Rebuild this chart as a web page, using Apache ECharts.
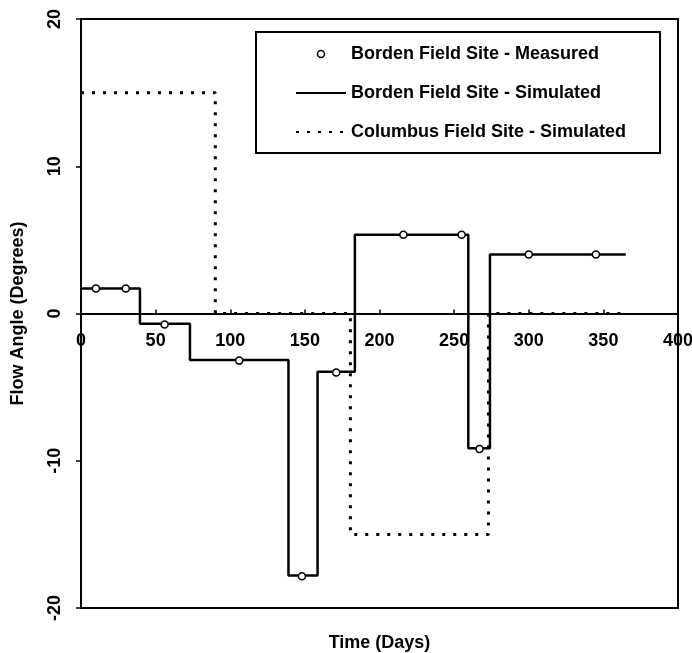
<!DOCTYPE html>
<html>
<head>
<meta charset="utf-8">
<script src="https://cdn.jsdelivr.net/npm/echarts@6/dist/echarts.min.js"></script>
<style>
html,body{margin:0;padding:0;background:#fff;}
#chart{width:692px;height:653px;}
</style>
</head>
<body>
<div id="chart"></div>
<script>
// Borden Field Site - Simulated: value held from stepStart[i] to next start
const bordenSimStart = [0, 39.5, 73, 139, 158.5, 183.5, 259.5, 274, 365];
const bordenSimValue = [1.7, -0.7, -3.15, -17.8, -3.95, 5.35, -9.15, 4.0, 4.0];
// Columbus Field Site - Simulated
const columbusStart = [0, 90, 180.5, 273, 365];
const columbusValue = [15, 0, -15, 0, 0];
// Borden Field Site - Measured
const measuredDay = [10, 30, 56, 106, 148, 171, 216, 255, 267, 300, 345];
const measuredAngle = [1.7, 1.7, -0.75, -3.2, -17.85, -4.0, 5.35, 5.35, -9.2, 4.0, 4.0];
const xTicks = [0, 50, 100, 150, 200, 250, 300, 350, 400];
const yTicks = [-20, -10, 0, 10, 20];

const FONT = "'Liberation Sans', Arial, sans-serif";
const zip = (a, b) => a.map((v, i) => [v, b[i]]);

const GRID_TOP = 19, GRID_BOTTOM = 45, H = 653;
const plotH = H - GRID_TOP - GRID_BOTTOM;
// distance from top of plot to the y = 0 line
const zeroOffset = plotH * (yTicks[yTicks.length - 1] - 0) / (yTicks[yTicks.length - 1] - yTicks[0]);

const chart = echarts.init(document.getElementById('chart'), null, {renderer: 'canvas'});
chart.setOption({
  animation: false,
  backgroundColor: '#fff',
  textStyle: {fontFamily: FONT},
  grid: {left: 81, right: 14, top: GRID_TOP, bottom: GRID_BOTTOM, containLabel: false, outerBoundsMode: 'none',
         show: true, borderColor: '#000', borderWidth: 2, backgroundColor: 'transparent'},
  legend: {
    orient: 'vertical', left: 256, top: 32,
    itemWidth: 50, itemHeight: 7, itemGap: 21,
    padding: [13, 34, 12, 39],
    borderColor: '#000', borderWidth: 2,
    backgroundColor: '#fff',
    textStyle: {fontSize: 18, fontWeight: 'bold', color: '#000', fontFamily: FONT},
    data: [
      {name: 'Borden Field Site - Measured', itemStyle: {color: '#fff', borderColor: '#000', borderWidth: 1.5}},
      {name: 'Borden Field Site - Simulated', itemStyle: {opacity: 0}},
      {name: 'Columbus Field Site - Simulated', itemStyle: {opacity: 0}}
    ]
  },
  xAxis: [{
    type: 'value', min: xTicks[0], max: xTicks[xTicks.length - 1], interval: 50,
    position: 'top', offset: -zeroOffset,
    axisLine: {onZero: false, lineStyle: {color: '#000', width: 2}},
    axisTick: {show: true, inside: false, length: 4, lineStyle: {color: '#000', width: 1.5}},
    axisLabel: {inside: true, margin: 19, fontSize: 18, fontWeight: 'bold', color: '#000', fontFamily: FONT},
    splitLine: {show: false}
  }, {
    type: 'value', min: xTicks[0], max: xTicks[xTicks.length - 1], position: 'bottom',
    axisLine: {show: false, onZero: false}, axisTick: {show: false}, axisLabel: {show: false}, splitLine: {show: false},
    name: 'Time (Days)', nameLocation: 'middle', nameGap: 26,
    nameTextStyle: {fontSize: 18, fontWeight: 'bold', color: '#000', fontFamily: FONT}
  }],
  yAxis: {
    type: 'value', min: yTicks[0], max: yTicks[yTicks.length - 1], interval: 10,
    axisLine: {show: true, onZero: false, lineStyle: {color: '#000', width: 1.5}},
    axisTick: {show: true, length: 5, lineStyle: {color: '#000', width: 1.5}},
    axisLabel: {rotate: 90, margin: 17, fontSize: 18, fontWeight: 'bold', color: '#000', fontFamily: FONT},
    splitLine: {show: false},
    name: 'Flow Angle (Degrees)', nameLocation: 'middle', nameGap: 54,
    nameTextStyle: {fontSize: 18, fontWeight: 'bold', color: '#000', fontFamily: FONT}
  },
  series: [
    {
      name: 'Columbus Field Site - Simulated', type: 'line', step: 'end', symbol: 'none', z: 2,
      data: zip(columbusStart, columbusValue),
      lineStyle: {color: '#000', width: 3, type: [3, 8]},
      itemStyle: {color: '#000'}
    },
    {
      name: 'Borden Field Site - Simulated', type: 'line', step: 'end', symbol: 'none', z: 3,
      data: zip(bordenSimStart, bordenSimValue),
      lineStyle: {color: '#000', width: 2.5},
      itemStyle: {color: '#000'}
    },
    {
      name: 'Borden Field Site - Measured', type: 'scatter', symbol: 'circle', symbolSize: 7, z: 4,
      data: zip(measuredDay, measuredAngle),
      itemStyle: {color: '#fff', borderColor: '#000', borderWidth: 1.5, opacity: 1}
    }
  ]
});
</script>
</body>
</html>
